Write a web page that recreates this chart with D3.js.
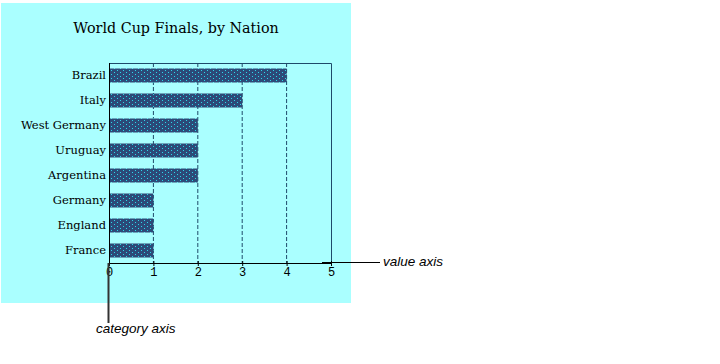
<!DOCTYPE html>
<html><head><meta charset="utf-8">
<script src="https://cdn.jsdelivr.net/npm/d3@7"></script>
<style>body{margin:0;background:#fff}svg{display:block}</style>
</head><body>
<svg id="c" width="720" height="364"></svg>
<script>
const categories = ["Brazil","Italy","West Germany","Uruguay","Argentina","Germany","England","France"];
const titles = [4,3,2,2,2,1,1,1];
const tickValues = [0,1,2,3,4,5];
const chartTitle = "World Cup Finals, by Nation";

const svg = d3.select("#c");
const defs = svg.append("defs");
const pat = defs.append("pattern").attr("id","dots").attr("patternUnits","userSpaceOnUse")
  .attr("width",6).attr("height",4);
pat.append("rect").attr("width",6).attr("height",4).attr("fill","#2c4a78");
pat.append("rect").attr("x",0).attr("y",0).attr("width",1).attr("height",1).attr("fill","#2ad8ea");
pat.append("rect").attr("x",3).attr("y",2).attr("width",1).attr("height",1).attr("fill","#2ad8ea");

svg.append("rect").attr("x",1).attr("y",3).attr("width",350).attr("height",300).attr("fill","#aaffff");

svg.append("text").attr("x",176).attr("y",33).attr("text-anchor","middle")
  .attr("font-family","DejaVu Serif, serif").attr("font-size",14.3).attr("fill","#000").text(chartTitle);

const x = d3.scaleLinear().domain([0,5]).range([109,331]);
const y = d3.scaleBand().domain(categories).range([63,263]).paddingInner(0.44).paddingOuter(0.22);

// gridlines
svg.append("g").selectAll("line").data(tickValues.filter(v=>v>0&&v<5)).join("line")
  .attr("x1",d=>x(d)).attr("x2",d=>x(d)).attr("y1",63).attr("y2",263)
  .attr("stroke","#1e4a6a").attr("stroke-dasharray","4,2").attr("stroke-width",1);
// frame
svg.append("path").attr("d",`M${x(0)},63.5H${x(5)+0.5}V263`).attr("fill","none").attr("stroke","#1e4a6a");

svg.append("g").selectAll("rect").data(categories).join("rect")
  .attr("x",x(0)).attr("y",d=>y(d)).attr("width",(d,i)=>x(titles[i])-x(0)).attr("height",y.bandwidth())
  .attr("fill","url(#dots)");

const ax = svg.append("g").attr("transform","translate(0,263)")
  .call(d3.axisBottom(x).tickValues(tickValues).tickSize(5).tickFormat(d3.format("d")));
ax.select(".domain").attr("stroke","#000").attr("d",`M${x(0)},0.5H${x(5)}`);
ax.selectAll("line").attr("stroke","#000").attr("y1",-2).attr("y2",3);
ax.selectAll("text").attr("font-family","Liberation Mono, monospace").attr("font-size",12).attr("dy","0.9em").attr("y",2);

const ay = svg.append("g").attr("transform",`translate(${x(0)},0)`)
  .call(d3.axisLeft(y).tickSize(0).tickPadding(3));
ay.select(".domain").attr("stroke","#000").attr("d","M0.5,63V264");
ay.selectAll("text").attr("font-family","DejaVu Serif, serif").attr("font-size",11.5).attr("fill","#000");

// annotations
svg.append("line").attr("x1",322).attr("x2",380).attr("y1",262.5).attr("y2",262.5).attr("stroke","#000");
svg.append("line").attr("x1",324).attr("x2",331).attr("y1",263.5).attr("y2",263.5).attr("stroke","#000");
svg.append("text").attr("x",383).attr("y",266).attr("font-family","Liberation Sans, sans-serif")
  .attr("font-style","italic").attr("font-size",13.5).text("value axis");
svg.append("line").attr("x1",108.5).attr("x2",108.5).attr("y1",263).attr("y2",323).attr("stroke","#333").attr("stroke-width",2);
svg.append("text").attr("x",96).attr("y",333).attr("font-family","Liberation Sans, sans-serif")
  .attr("font-style","italic").attr("font-size",13.5).text("category axis");
</script>
</body></html>
